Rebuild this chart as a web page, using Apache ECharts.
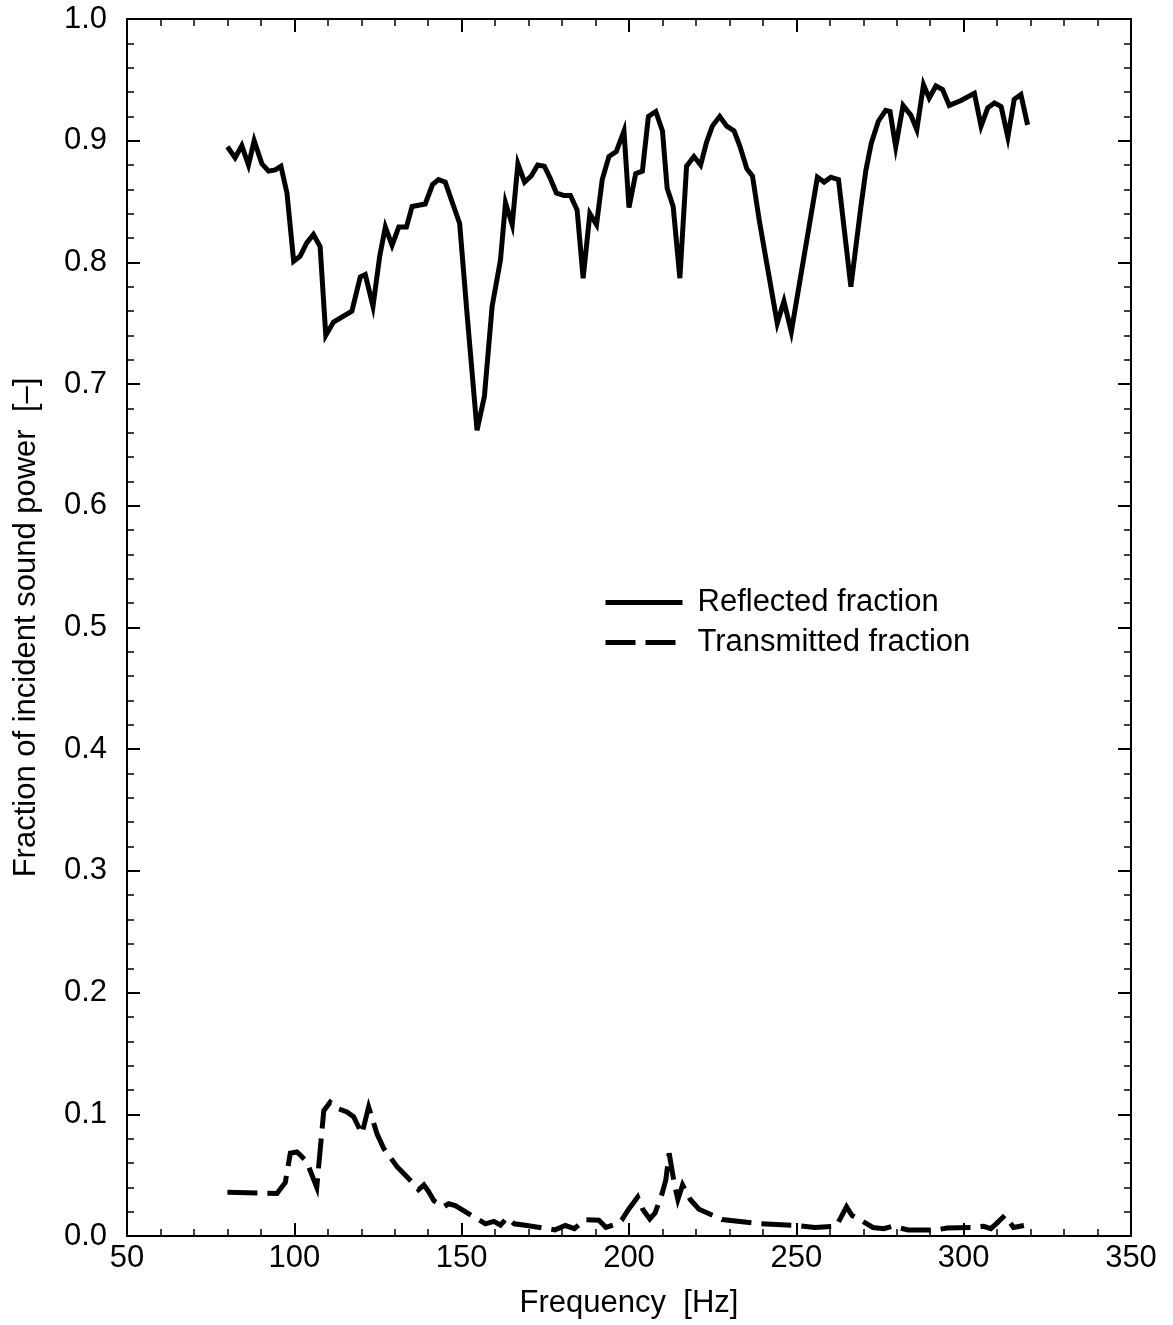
<!DOCTYPE html>
<html>
<head>
<meta charset="utf-8">
<title>Reflected and transmitted sound power</title>
<script src="https://cdn.jsdelivr.net/npm/echarts@6/dist/echarts.min.js"></script>
<style>
  html, body { margin: 0; padding: 0; background: #fff; }
  #chart { width: 1173px; height: 1325px; }
</style>
</head>
<body>
<div id="chart"></div>
<script>
// Frequency [Hz] and fraction of incident sound power that is reflected
const reflectedFreq = [
  80, 82.3, 84.3, 86.3, 88, 90.3, 92.3, 94.3, 96, 97.8,
  99.8, 101.7, 103.7, 105.7, 107.7, 109.4, 111.7, 117.2, 119.7, 121.2,
  123.5, 125.5, 127.2, 129.2, 131.2, 133.5, 135.2, 139.1, 141.3, 143.1,
  145.1, 147.1, 149.4, 151.6, 154.6, 156.8, 159.1, 161.6, 163.1, 165.1,
  166.8, 168.8, 170.8, 172.7, 174.7, 176.5, 178.3, 180.5, 182.5, 184.5,
  186.3, 188.3, 190.3, 192, 194, 196.2, 198.5, 200, 202, 204,
  205.8, 208, 210, 211.4, 213.2, 215.2, 217.2, 219.4, 221.4, 223.2,
  224.9, 227.1, 229.2, 231.4, 233.2, 235.2, 236.9, 238.9, 241.3, 244.3,
  246.3, 248.5, 256.3, 258.3, 260.3, 262.6, 266.3, 269.3, 270.8, 272.4,
  274.5, 276.7, 278, 279.7, 281.9, 284.2, 286, 288, 289.7, 291.7,
  293.7, 295.7, 299.2, 303.2, 305.2, 307.2, 309.2, 311.2, 313.2, 315.1,
  317.1, 319.1
];
const reflectedValue = [
  0.895, 0.886, 0.896, 0.880, 0.900, 0.881, 0.875, 0.876, 0.879, 0.857,
  0.801, 0.805, 0.816, 0.823, 0.813, 0.740, 0.751, 0.760, 0.788, 0.790,
  0.764, 0.805, 0.829, 0.814, 0.829, 0.829, 0.846, 0.848, 0.864, 0.868,
  0.866, 0.850, 0.832, 0.758, 0.662, 0.690, 0.764, 0.802, 0.849, 0.831,
  0.881, 0.866, 0.871, 0.880, 0.879, 0.869, 0.857, 0.855, 0.855, 0.843,
  0.787, 0.840, 0.831, 0.868, 0.887, 0.891, 0.908, 0.845, 0.873, 0.875,
  0.920, 0.924, 0.908, 0.861, 0.846, 0.787, 0.879, 0.887, 0.880, 0.899,
  0.912, 0.920, 0.912, 0.908, 0.895, 0.877, 0.871, 0.835, 0.797, 0.750,
  0.768, 0.743, 0.870, 0.866, 0.870, 0.868, 0.780, 0.846, 0.876, 0.898,
  0.916, 0.925, 0.924, 0.895, 0.929, 0.921, 0.909, 0.946, 0.935, 0.945,
  0.942, 0.929, 0.933, 0.939, 0.912, 0.927, 0.931, 0.928, 0.903, 0.934,
  0.938, 0.913
];

// Frequency [Hz] and fraction of incident sound power that is transmitted
const transmittedFreq = [
  80, 94.8, 97.3, 98.8, 100.8, 102, 103.7, 106.7, 108.2, 108.8,
  110.7, 112.7, 115.7, 117.7, 120.2, 122.2, 124.7, 126.7, 130.7, 135.6,
  137.1, 138.7, 140, 141.7, 144.6, 146.1, 148.1, 157.1, 159.6, 161.6,
  163.6, 165.7, 169.5, 177.9, 181, 183.7, 186.8, 191, 193.1, 196.3,
  197.8, 199.9, 202.6, 204.1, 206.2, 207.8, 209.9, 211, 212, 213.6,
  214.6, 216, 218.3, 220.9, 227.8, 239.3, 249.8, 255.6, 261.9, 265,
  266.6, 269.2, 272.9, 276.1, 278.7, 283.4, 291.8, 295, 302.3, 306,
  308.1, 309.7, 312.3, 314.9, 318
];
const transmittedValue = [
  0.036, 0.035, 0.044, 0.068, 0.069, 0.066, 0.061, 0.040, 0.085, 0.103,
  0.110, 0.105, 0.102, 0.098, 0.084, 0.106, 0.084, 0.072, 0.057, 0.043,
  0.038, 0.042, 0.037, 0.029, 0.024, 0.0265, 0.025, 0.010, 0.012, 0.009,
  0.015, 0.010, 0.0086, 0.005, 0.0086, 0.006, 0.0135, 0.013, 0.007, 0.010,
  0.013, 0.022, 0.032, 0.022, 0.014, 0.019, 0.035, 0.046, 0.068, 0.042,
  0.030, 0.042, 0.030, 0.022, 0.0135, 0.010, 0.0086, 0.007, 0.008, 0.024,
  0.017, 0.013, 0.007, 0.006, 0.008, 0.005, 0.005, 0.0066, 0.007, 0.008,
  0.006, 0.010, 0.017, 0.007, 0.0086
];

const seriesNames = ['Reflected fraction', 'Transmitted fraction'];
const xAxisTitle = 'Frequency  [Hz]';
const yAxisTitle = 'Fraction of incident sound power  [–]';

const FONT = '"Liberation Sans", Arial, Helvetica, sans-serif';
const INK = '#000';
const DASH = [30, 10];

function pairs(xs, ys) {
  return xs.map((x, i) => [x, ys[i]]);
}

const tickStyle = {
  show: true, inside: true, length: 13,
  lineStyle: { color: INK, width: 2 }
};
const minorTickStyle = {
  show: true, splitNumber: 5, length: 7,
  lineStyle: { color: INK, width: 1.5 }
};
const axisLineStyle = { show: true, onZero: false, lineStyle: { color: INK, width: 2 } };

const chart = echarts.init(document.getElementById('chart'), null, { renderer: 'canvas' });

chart.setOption({
  animation: false,
  backgroundColor: '#fff',
  textStyle: { fontFamily: FONT, color: INK },
  grid: {
    left: 127, right: 42, top: 19, bottom: 89,
    containLabel: false,
    outerBoundsMode: 'none'
  },
  legend: {
    orient: 'vertical',
    left: 603,
    top: 587,
    padding: 0,
    itemWidth: 77,
    itemHeight: 14,
    itemGap: 9,
    itemStyle: { opacity: 0 },
    textStyle: { fontSize: 31, color: INK, fontFamily: FONT, padding: [0, 0, 0, 10] },
    data: [
      { name: seriesNames[0], lineStyle: { color: INK, width: 5, type: 'solid' }, itemStyle: { opacity: 0 } },
      { name: seriesNames[1], lineStyle: { color: INK, width: 5, type: DASH }, itemStyle: { opacity: 0 } }
    ]
  },
  xAxis: [
    {
      type: 'value', min: 50, max: 350, interval: 50,
      name: xAxisTitle, nameLocation: 'middle', nameGap: 52,
      nameTextStyle: { fontSize: 31, color: INK, fontFamily: FONT },
      axisLine: axisLineStyle,
      axisTick: tickStyle,
      minorTick: minorTickStyle,
      splitLine: { show: false },
      axisLabel: { fontSize: 31, color: INK, fontFamily: FONT, margin: 7 }
    },
    {
      type: 'value', min: 50, max: 350, interval: 50, position: 'top',
      axisLine: axisLineStyle,
      axisTick: tickStyle,
      minorTick: minorTickStyle,
      splitLine: { show: false },
      axisLabel: { show: false }
    }
  ],
  yAxis: [
    {
      type: 'value', min: 0, max: 1, interval: 0.1,
      name: yAxisTitle, nameLocation: 'middle', nameGap: 85,
      nameTextStyle: { fontSize: 31, color: INK, fontFamily: FONT },
      axisLine: axisLineStyle,
      axisTick: tickStyle,
      minorTick: minorTickStyle,
      splitLine: { show: false },
      axisLabel: {
        fontSize: 31, color: INK, fontFamily: FONT, margin: 20,
        formatter: v => v.toFixed(1)
      }
    },
    {
      type: 'value', min: 0, max: 1, interval: 0.1, position: 'right',
      axisLine: axisLineStyle,
      axisTick: tickStyle,
      minorTick: minorTickStyle,
      splitLine: { show: false },
      axisLabel: { show: false }
    }
  ],
  series: [
    {
      name: seriesNames[0],
      type: 'line',
      xAxisIndex: 0, yAxisIndex: 0,
      data: pairs(reflectedFreq, reflectedValue),
      symbol: 'none',
      smooth: false,
      color: INK,
      lineStyle: { color: INK, width: 5, join: 'miter', miterLimit: 6 }
    },
    {
      name: seriesNames[1],
      type: 'line',
      xAxisIndex: 0, yAxisIndex: 0,
      data: pairs(transmittedFreq, transmittedValue),
      symbol: 'none',
      smooth: false,
      color: INK,
      lineStyle: { color: INK, width: 5, type: DASH, join: 'miter', miterLimit: 6 }
    }
  ]
});
</script>
</body>
</html>
